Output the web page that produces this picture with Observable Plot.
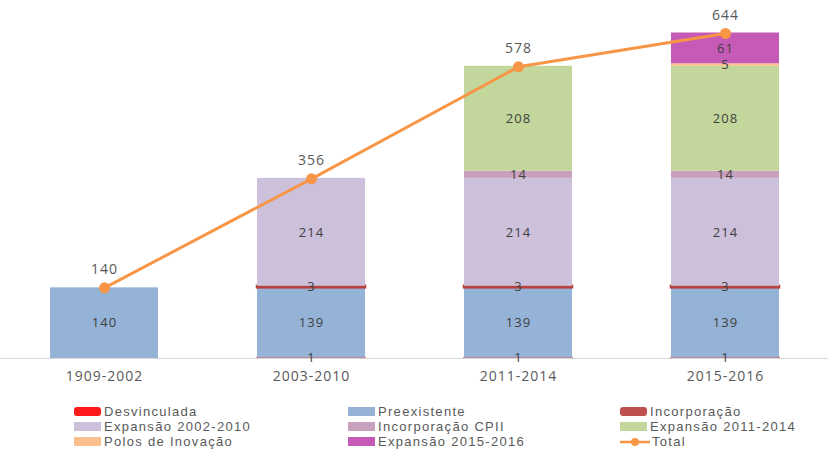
<!DOCTYPE html>
<html><head><meta charset="utf-8">
<script src="https://cdn.jsdelivr.net/npm/d3@7"></script>
<script src="https://cdn.jsdelivr.net/npm/@observablehq/plot@0.6"></script>
<style>
body{margin:0;background:#fff;font-family:"Open Sans",sans-serif;}
#legend{display:grid;grid-template-columns:274px 272px 200px;margin-left:74px;row-gap:0px;font-family:"Liberation Sans",Arial,sans-serif;font-size:13px;letter-spacing:1.3px;color:#595959;line-height:15px;margin-top:12px;}
.it{display:flex;align-items:center;white-space:nowrap;height:15px;}
.sw{width:27px;height:9px;margin-right:3px;}
</style></head><body>
<div id="chart"></div>
<div id="legend"></div>
<script>
const periods = ["1909-2002","2003-2010","2011-2014","2015-2016"];
const series = ["Desvinculada","Preexistente","Incorporação","Expansão 2002-2010","Incorporação CPII","Expansão 2011-2014","Polos de Inovação","Expansão 2015-2016"];
const colors = ["#ff1a1a","#95b3d7","#c0504d","#ccc0da","#c9a0bd","#c3d69b","#fac090","#c65bb7"];
const desvinculada = [0,1,1,1];
const preexistente = [140,139,139,139];
const incorporacao = [0,3,3,3];
const expansao0210 = [0,214,214,214];
const incorporacaoCPII = [0,0,14,14];
const expansao1114 = [0,0,208,208];
const polos = [0,0,0,5];
const expansao1516 = [0,0,0,61];
const total = [140,356,578,644];
const seriesValues = [desvinculada,preexistente,incorporacao,expansao0210,incorporacaoCPII,expansao1114,polos,expansao1516];
const rows = [];
series.forEach((s,i)=>periods.forEach((p,j)=>{ if(seriesValues[i][j]>0) rows.push({period:p,series:s,value:seriesValues[i][j]}); }));
const totals = periods.map((p,j)=>({period:p,total:total[j]}));
const thinStroke = new Map([["Desvinculada","#e06060"],["Incorporação","#b8403d"]]);
const chart = Plot.plot({
  width:836, height:392, marginLeft:0, marginRight:8, marginTop:33, marginBottom:34,
  style:{fontFamily:"Open Sans, sans-serif", fontSize:"14px", color:"#595959", letterSpacing:"1px"},
  x:{domain:periods, paddingInner:0.48, paddingOuter:0.24, label:null, tickSize:0, tickPadding:13},
  y:{domain:[0,644], axis:null},
  color:{domain:series, range:colors},
  marks:[
    Plot.barY(rows, Plot.stackY({x:"period", y:"value", fill:"series", order:series,
      stroke: d=>thinStroke.get(d.series) ?? "none", strokeWidth: d=> d.series==="Incorporação"?2.5:(d.series==="Desvinculada"?1.5:1)})),
    Plot.ruleY([0], {stroke:"#d9d9d9"}),
    Plot.text(rows, Plot.stackY({x:"period", y:"value", order:series, z:"series", text:d=>String(d.value), fill:"#404040", fontSize:13})),
    Plot.line(totals, {x:"period", y:"total", stroke:"#f79646", strokeWidth:3}),
    Plot.dot(totals, {x:"period", y:"total", fill:"#f79646", r:5.5}),
    Plot.text(totals, {x:"period", y:"total", text:d=>String(d.total), dy:-18, fill:"#595959", fontSize:14})
  ]
});
document.getElementById("chart").append(chart);
const legendOrder = ["Desvinculada","Preexistente","Incorporação","Expansão 2002-2010","Incorporação CPII","Expansão 2011-2014","Polos de Inovação","Expansão 2015-2016","Total"];
const leg = document.getElementById("legend");
legendOrder.forEach(name=>{
  const it=document.createElement("div"); it.className="it";
  if(name==="Total"){
    it.innerHTML='<svg width="30" height="10" style="margin-right:2px"><line x1="0" x2="30" y1="5" y2="5" stroke="#f79646" stroke-width="2.5"/><circle cx="15" cy="5" r="4" fill="#f79646"/></svg>';
  } else {
    const sw=document.createElement("div"); sw.className="sw"; sw.style.background=colors[series.indexOf(name)];
    if(name==="Desvinculada"||name==="Incorporação") sw.style.borderRadius="3px";
    it.append(sw);
  }
  it.append(document.createTextNode(name));
  leg.append(it);
});
</script></body></html>
